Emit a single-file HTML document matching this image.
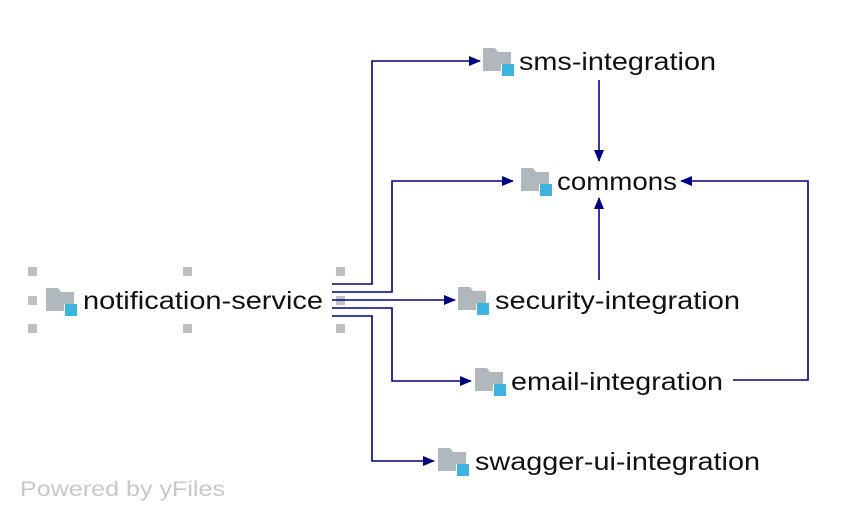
<!DOCTYPE html>
<html><head><meta charset="utf-8"><style>
html,body{margin:0;padding:0;background:#fff;width:848px;height:520px;overflow:hidden}
text{font-family:"Liberation Sans",sans-serif}
</style></head><body>
<svg width="848" height="520" viewBox="0 0 848 520" xmlns="http://www.w3.org/2000/svg">
<defs>
<g id="ic">
<path d="M0 0 H12 L15 4 H28 V23 H0 Z" fill="#b0b8bd"/>
<rect x="18" y="16" width="12" height="12" fill="#fff"/>
<rect x="19" y="16" width="12" height="12" fill="#3db5e0"/>
</g>
<marker id="ar" markerWidth="12" markerHeight="10" refX="11" refY="5" orient="auto" markerUnits="userSpaceOnUse">
<path d="M0 0 L12 5 L0 10 Z" fill="#000080"/>
</marker>
</defs>
<g fill="#c0c0c0">
<rect x="28" y="267" width="9" height="9"/><rect x="183" y="267" width="9" height="9"/><rect x="336" y="267" width="9" height="9"/>
<rect x="28" y="296" width="9" height="9"/><rect x="336" y="296" width="9" height="9"/>
<rect x="28" y="324" width="9" height="9"/><rect x="183" y="324" width="9" height="9"/><rect x="336" y="324" width="9" height="9"/>
</g>
<g fill="none" stroke="#000080" stroke-width="1.6">
<path d="M332 284 H372 V61 H480" marker-end="url(#ar)"/>
<path d="M332 292 H392 V181 H513" marker-end="url(#ar)"/>
<path d="M332 300 H455" marker-end="url(#ar)"/>
<path d="M332 308 H392 V381 H471" marker-end="url(#ar)"/>
<path d="M332 316 H372 V461 H434" marker-end="url(#ar)"/>
<path d="M599 80 V161" marker-end="url(#ar)"/>
<path d="M599 280 V198" marker-end="url(#ar)"/>
<path d="M733 380 H808 V181 H681" marker-end="url(#ar)"/>
</g>
<use href="#ic" x="46" y="288"/>
<use href="#ic" x="483" y="48"/>
<use href="#ic" x="521" y="168"/>
<use href="#ic" x="458" y="287"/>
<use href="#ic" x="475" y="368"/>
<use href="#ic" x="438" y="448"/>
<g font-size="25" fill="#111">
<text x="83" y="309" textLength="240" lengthAdjust="spacingAndGlyphs">notification-service</text>
<text x="519" y="70" textLength="197" lengthAdjust="spacingAndGlyphs">sms-integration</text>
<text x="557" y="190" textLength="120" lengthAdjust="spacingAndGlyphs">commons</text>
<text x="495" y="309" textLength="245" lengthAdjust="spacingAndGlyphs">security-integration</text>
<text x="511" y="390" textLength="212" lengthAdjust="spacingAndGlyphs">email-integration</text>
<text x="475" y="470" textLength="285" lengthAdjust="spacingAndGlyphs">swagger-ui-integration</text>
</g>
<text x="20" y="496" font-size="21" fill="#c8c8c8" textLength="205" lengthAdjust="spacingAndGlyphs">Powered by yFiles</text>
</svg>
</body></html>
